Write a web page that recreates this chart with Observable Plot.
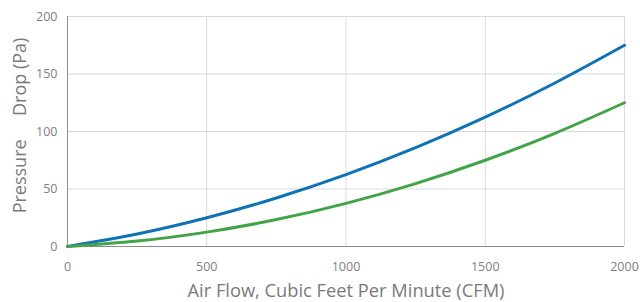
<!DOCTYPE html>
<html>
<head>
<meta charset="utf-8">
<script src="https://cdn.jsdelivr.net/npm/d3@7"></script>
<script src="https://cdn.jsdelivr.net/npm/@observablehq/plot@0.6"></script>
<style>
  html, body { margin: 0; padding: 0; background: #fff; }
  #chart svg { display: block; }
</style>
</head>
<body>
<div id="chart"></div>
<script>
const airflow = [0, 250, 500, 750, 1000, 1250, 1500, 1750, 2000];
const seriesA = [0, 10.9, 25, 42.2, 62.5, 85.9, 112.5, 142.2, 175];
const seriesB = [0, 4.7, 12.5, 23.4, 37.5, 54.7, 75, 98.4, 125];
const xTicks = [0, 500, 1000, 1500, 2000];
const yTicks = [0, 50, 100, 150, 200];
const xLabel = "Air Flow, Cubic Feet Per Minute (CFM)";
const yLabel = "Pressure\u00a0\u00a0\u00a0\u00a0\u00a0Drop (Pa)";

const dataA = airflow.map((x, i) => ({x, y: seriesA[i]}));
const dataB = airflow.map((x, i) => ({x, y: seriesB[i]}));

const font = "'Open Sans', sans-serif";
const chart = Plot.plot({
  width: 640,
  height: 302,
  marginLeft: 67,
  marginRight: 16,
  marginTop: 16,
  marginBottom: 56,
  style: {fontFamily: font, fontSize: "12px", color: "#808080", background: "#fff"},
  x: {domain: [0, 2000], ticks: xTicks, label: null},
  y: {domain: [0, 200], ticks: yTicks, label: null},
  marks: [
    Plot.gridX(xTicks, {stroke: "#d9d9d9", strokeOpacity: 1, strokeWidth: 1}),
    Plot.gridY(yTicks, {stroke: "#d9d9d9", strokeOpacity: 1, strokeWidth: 1}),
    Plot.ruleX([0], {stroke: "#8c8c8c", strokeWidth: 1}),
    Plot.ruleY([0], {stroke: "#8c8c8c", strokeWidth: 1}),
    Plot.axisX(xTicks, {tickSize: 0, tickPadding: 16, fill: "#808080", fontSize: 12.5, tickFormat: d3.format("d")}),
    Plot.axisY(yTicks, {tickSize: 0, tickPadding: 10, fill: "#808080", fontSize: 12.5, tickFormat: d3.format("d")}),
    Plot.line(dataA, {x: "x", y: "y", stroke: "#0f72b4", strokeWidth: 3, curve: "natural"}),
    Plot.line(dataB, {x: "x", y: "y", stroke: "#43a447", strokeWidth: 3, curve: "natural"}),
    Plot.text([xLabel], {frameAnchor: "bottom", dy: 50, fill: "#7a7a7a", fontSize: 18.3, text: d => d}),
    Plot.text([yLabel], {frameAnchor: "left", textAnchor: "middle", dx: -47, dy: -6, rotate: -90, fill: "#7a7a7a", fontSize: 18, text: d => d})
  ]
});
document.getElementById("chart").appendChild(chart);
</script>
</body>
</html>
